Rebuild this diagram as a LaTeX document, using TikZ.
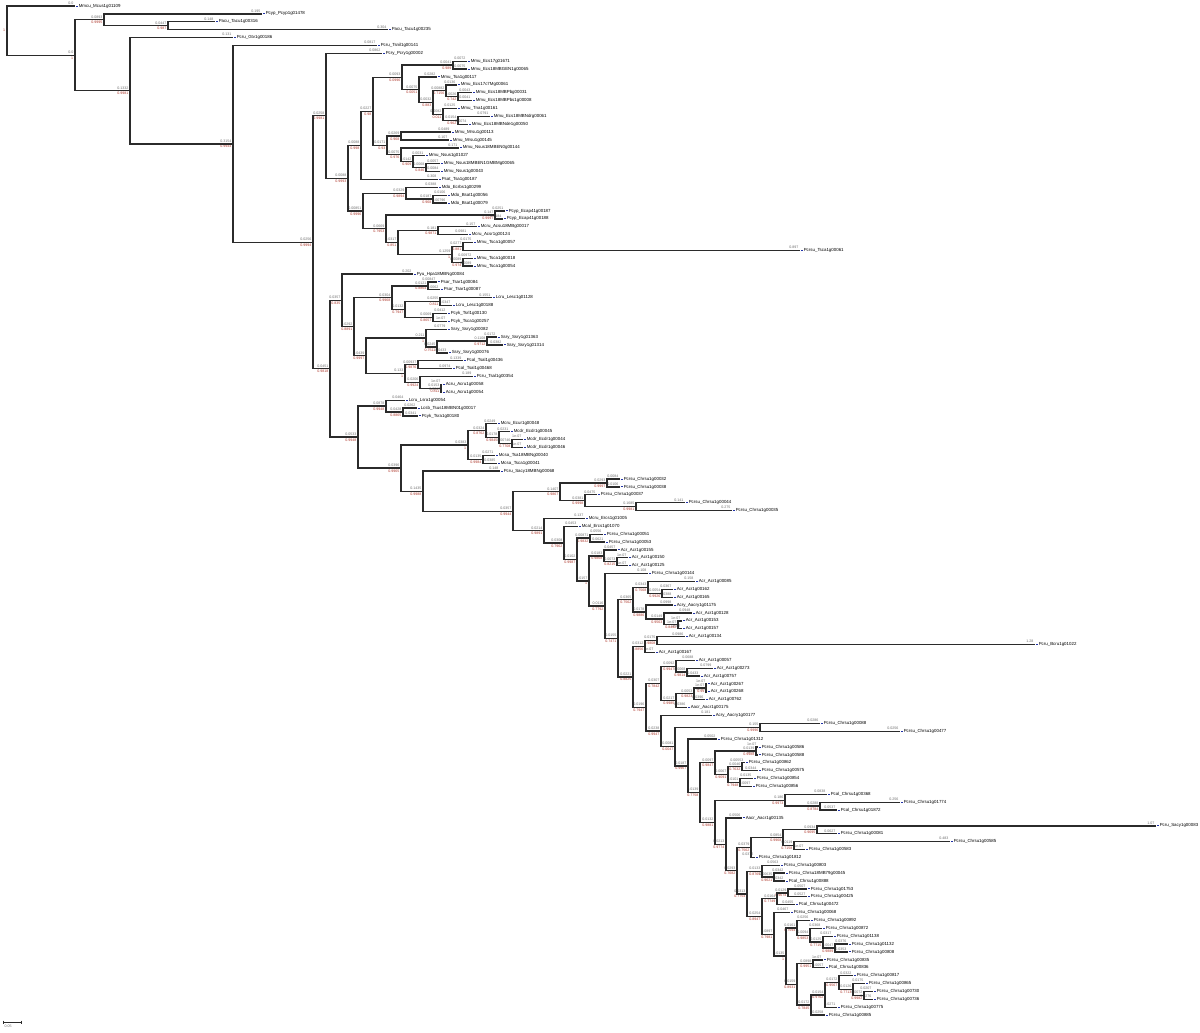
\documentclass[tikz,border=0pt]{standalone}
\usepackage{fontspec}
\setmainfont{Liberation Sans}
\usetikzlibrary{calc}
\definecolor{branchgray}{HTML}{2B2B2B}
\definecolor{lengthgray}{HTML}{6E6E6E}
\definecolor{supportred}{HTML}{B03A2E}
\definecolor{tipblue}{HTML}{2233AA}
\tikzset{
  branch/.style={draw=branchgray, line width=0.33pt},
  leaflab/.style={anchor=west, inner sep=0pt, font=\fontsize{1.1}{1.1}\selectfont},
  lenlab/.style={anchor=south east, inner sep=0.2pt, text=lengthgray, font=\fontsize{0.9}{0.9}\selectfont},
  suplab/.style={anchor=north east, inner sep=0.2pt, text=supportred, font=\fontsize{0.9}{0.9}\selectfont},
}

\begin{document}
\begin{tikzpicture}[x=0.25pt, y=-0.25pt]
  \useasboundingbox (0,0) rectangle (1200,1032);
  \fill[white] (0,0) rectangle (1200,1032);

  % leaves: name / row / tip x / label / branch length
  \foreach \nm/\li/\tx/\lb/\bl in {
    L1/1/75/Mmcu\_Mcus1g01109/0.0,
    L2/2/262/Pcyp\_Pcyp1g01478/0.195,
    L3/3/215/Pacu\_Tacu1g00316/0.148,
    L4/4/388/Pacu\_Tacu1g00235/0.304,
    L5/5/233/Pcru\_Gtv1g00186/0.131,
    L6/6/377/Pcru\_Tsnil1g00141/0.0817,
    L7/7/382/Pcry\_Pcry1g00002/0.0862,
    L8/8/467/Mmu\_Ecs17g01671/0.0072,
    L9/9/467/Mmu\_Ecs18MBGEN1g00065/0.0075,
    L10/10/437/Mmu\_Tsa1g00117/0.0282,
    L11/11/457/Mmu\_Ecs17c7Mg00061/0.0136,
    L12/12/472/Mmu\_Ecs18MBPbg00031/0.0043,
    L13/13/472/Mmu\_Ecs18MBPbs1g00008/0.0041,
    L14/14/457/Mmu\_Tna1g00161/0.0125,
    L15/15/490/Mmu\_Ecs18MBNdrg00061/0.0791,
    L16/16/468/Mmu\_Ecs18MBNde1g00050/0.0074,
    L17/17/451/Mmu\_Mrsu1g00113/0.0489,
    L18/18/449/Mmu\_Mrsu1g00145/0.107,
    L19/19/459/Mmu\_Nsus18MBEN0g00144/0.171,
    L20/20/425/Mmu\_Nsus1g01027/0.0031,
    L21/21/440/Mmu\_Nsus18MBEN1GMBMg00065/0.0057,
    L22/22/440/Mmu\_Nsus1g00043/0.0084,
    L23/23/438/Psat\_Tsa1g00187/0.308,
    L24/24/438/Mdo\_Ecrbs1g00299/0.0388,
    L25/25/447/Mdo\_Bsat1g00056/0.0106,
    L26/26/447/Mdo\_Bsat1g00079/0.00796,
    L27/27/505/Pcyp\_Ecap41g00187/0.0251,
    L28/28/503/Pcyp\_Ecap41g00188/0.0184,
    L29/29/477/Mcru\_Acsu18MBg00017/0.157,
    L30/30/468/Mcru\_Acsr1g00124/0.0981,
    L31/31/473/Mmu\_Tsca1g00057/0.0175,
    L32/32/800/Pcrsu\_Tsca1g00061/0.897,
    L33/33/473/Mmu\_Tsca1g00018/0.00972,
    L34/34/473/Mmu\_Tsca1g00054/0.0089,
    L35/35/413/Pyu\_Hpa18MBNg00084/0.202,
    L36/36/437/Psar\_Tsar1g00084/0.00847,
    L37/37/440/Psar\_Tsar1g00087/0.0062,
    L38/38/492/Lcru\_Lesc1g01128/0.1551,
    L39/39/452/Lcru\_Lesc1g00188/0.0347,
    L40/40/447/Pcyk\_Tsrl1g00130/0.0412,
    L41/41/447/Pcyk\_Tsca1g00257/1e-07,
    L42/42/447/Ssry\_Ssry1g00082/0.0779,
    L43/43/497/Ssry\_Ssry1g01363/0.0172,
    L44/44/503/Ssry\_Ssry1g01314/0.0382,
    L45/45/448/Ssry\_Ssry1g00076/0.0433,
    L46/46/463/Pcal\_Tsal1g00436/0.1339,
    L47/47/452/Pcal\_Tsal1g00468/0.0974,
    L48/48/473/Pcru\_Tsal1g00354/0.189,
    L49/49/442/Acru\_Acru1g00058/1e-07,
    L50/50/442/Acru\_Acru1g00054/0.0017,
    L51/51/405/Lcru\_Lsra1g00054/0.0464,
    L52/52/417/Lcsb\_Tsus18MBN01g00017/0.0262,
    L53/53/418/Pcyk\_Tsra1g00180/0.0341,
    L54/54/497/Mcru\_Ecur1g00048/0.0249,
    L55/55/510/Mcdr\_Ecdr1g00045/0.0231,
    L56/56/523/Mcdr\_Ecdr1g00044/1e-07,
    L57/57/523/Mcdr\_Ecdr1g00046/1e-07,
    L58/58/495/Mcsa\_Tsa18MBNg00040/0.0271,
    L59/59/497/Mcsa\_Tsca1g00041/0.0385,
    L60/60/500/Pcru\_Sacy18MBNg00068/0.148,
    L61/61/620/Pcrsu\_Chrsu1g00032/0.0084,
    L62/62/620/Pcrsu\_Chrsu1g00038/0.0106,
    L63/63/597/Pcrsu\_Chrsu1g00037/0.0475,
    L64/64/685/Pcrsu\_Chrsu1g00044/0.141,
    L65/65/732/Pcrsu\_Chrsu1g00035/0.275,
    L66/66/585/Mcru\_Ercs1g01005/0.137,
    L67/67/578/Mcal\_Ercs1g01070/0.0453,
    L68/68/603/Pcrsu\_Chrsu1g00051/0.0556,
    L69/69/605/Pcrsu\_Chrsu1g00053/0.0621,
    L70/70/617/Acr\_Acr1g00155/0.0457,
    L71/71/628/Acr\_Acr1g00150/1e-07,
    L72/72/628/Acr\_Acr1g00125/1e-07,
    L73/73/648/Pcrsu\_Chrsu1g00144/0.108,
    L74/74/695/Acr\_Acr1g00085/0.158,
    L75/75/673/Acr\_Acr1g00162/0.0367,
    L76/76/673/Acr\_Acr1g00165/0.0388,
    L77/77/673/Acry\_Aacry1g01175/0.0998,
    L78/78/692/Acr\_Acr1g00128/0.0948,
    L79/79/682/Acr\_Acr1g00153/1e-07,
    L80/80/682/Acr\_Acr1g00157/1e-07,
    L81/81/685/Acr\_Acr1g00134/0.0986,
    L82/82/1035/Pcru\_Bcru1g01022/1.28,
    L83/83/655/Acr\_Acr1g00167/1e-07,
    L84/84/695/Acr\_Acr1g00057/0.0688,
    L85/85/713/Acr\_Acr1g00273/0.0799,
    L86/86/700/Acr\_Acr1g00757/0.0433,
    L87/87/707/Acr\_Acr1g00267/1e-07,
    L88/88/707/Acr\_Acr1g00268/1e-07,
    L89/89/705/Acr\_Acr1g00762/0.0396,
    L90/90/687/Aacr\_Aacr1g00175/0.0386,
    L91/91/712/Acry\_Aacry1g00177/0.181,
    L92/92/820/Pcrsu\_Chrsu1g00088/0.0286,
    L93/93/900/Pcrsu\_Chrsu1g00477/0.0256,
    L94/94/717/Pcrsu\_Chrsu1g01312/0.0502,
    L95/95/758/Pcrsu\_Chrsu1g00586/1e-07,
    L96/96/758/Pcrsu\_Chrsu1g00588/1e-07,
    L97/97/745/Pcrsu\_Chrsu1g00862/0.00553,
    L98/98/758/Pcrsu\_Chrsu1g00575/0.0344,
    L99/99/753/Pcrsu\_Chrsu1g00854/0.0135,
    L100/100/752/Pcrsu\_Chrsu1g00856/0.0097,
    L101/101/827/Pcal\_Chrsu1g00368/0.0838,
    L102/102/900/Pcrsu\_Chrsu1g01774/0.256,
    L103/103/837/Pcal\_Chrsu1g01872/0.0537,
    L104/104/742/Aacr\_Aacr1g00135/0.0506,
    L105/105/1156/Pcru\_Sacy1g00083/1.07,
    L106/106/837/Pcrsu\_Chrsu1g00081/0.0627,
    L107/107/950/Pcrsu\_Chrsu1g00585/0.483,
    L108/108/805/Pcrsu\_Chrsu1g00583/1e-07,
    L109/109/755/Pcrsu\_Chrsu1g01812/0.0372,
    L110/110/780/Pcrsu\_Chrsu1g00803/0.0563,
    L111/111/785/Pcrsu\_Chrsu18MB79g00045/0.0342,
    L112/112/785/Pcal\_Chrsu1g00888/0.0342,
    L113/113/807/Pcrsu\_Chrsu1g01753/0.0507,
    L114/114/807/Pcrsu\_Chrsu1g00425/0.0527,
    L115/115/795/Pcal\_Chrsu1g00472/0.0455,
    L116/116/790/Pcrsu\_Chrsu1g00068/0.0467,
    L117/117/810/Pcrsu\_Chrsu1g00892/0.0256,
    L118/118/822/Pcrsu\_Chrsu1g00872/0.0368,
    L119/119/833/Pcrsu\_Chrsu1g01138/0.0317,
    L120/120/848/Pcrsu\_Chrsu1g01132/0.0376,
    L121/121/848/Pcrsu\_Chrsu1g00808/0.0353,
    L122/122/823/Pcrsu\_Chrsu1g00835/1e-07,
    L123/123/825/Pcal\_Chrsu1g00836/0.0057,
    L124/124/853/Pcrsu\_Chrsu1g00817/0.0322,
    L125/125/865/Pcrsu\_Chrsu1g00865/0.0175,
    L126/126/873/Pcrsu\_Chrsu1g00730/0.0207,
    L127/127/873/Pcrsu\_Chrsu1g00736/0.0276,
    L128/128/837/Pcrsu\_Chrsu1g00775/0.0271,
    L129/129/825/Pcrsu\_Chrsu1g00885/0.0258%
  }{
    \pgfmathsetmacro\ty{6+(\li-1)*7.883}
    \expandafter\xdef\csname ty@\nm\endcsname{\ty}
    \coordinate (\nm) at (\tx,\ty);
    \fill[tipblue] (\tx+0.5,\ty-0.5) rectangle (\tx+2.5,\ty+0.5);
    \node[leaflab] at (\tx+3,\ty) {\lb};
    \node[lenlab] at (\nm) {\bl};
  }

  % inner nodes, children first: name / x / child / child / branch length / support
  \foreach \nm/\nx/\ka/\kb/\bl/\sv in {
    n4/168/L3/L4/0.0447/0.987,
    n2/104/L2/n4/0.0893/0.9995,
    na/453/L8/L9/0.0041/0.989,
    nb/458/L12/L13/0.0026/0.742,
    nc/446/L11/nb/0.00882/0.7156,
    nd/458/L15/L16/0.0154/0.962,
    ne/443/L14/nd/0.0082/0.011,
    nf/433/nc/ne/0.0032/0.883,
    ng/419/L10/nf/0.0075/0.0051,
    n12/402/na/ng/0.0093/0.0996,
    nh/401/L17/L18/0.0269/0.968,
    ni/426/L21/L22/0.0068/0.846,
    nj/413/L20/ni/0.0142/0.909,
    nk/401/L19/nj/0.0075/0.976,
    nl/387/nh/nk/0.0171/0.93,
    n11/373/n12/nl/0.0227/0.98,
    n9/361/n11/L23/0.0088/0.998,
    nu/433/L25/L26/0.0187/0.968,
    nm/406/L24/nu/0.0329/0.9894,
    np/495/L27/L28/0.147/0.9997,
    nr/438/L29/L30/0.181/0.9871,
    nt1/463/L31/L32/0.0277/0.881,
    nt2/463/L33/L34/0.0089/0.974,
    ns/452/nt1/nt2/0.1259/1,
    nq/398/nr/ns/0.0317/0.851,
    no/386/np/nq/0.0669/0.7953,
    n10/363/nm/no/0.00851/0.9996,
    n8/348/n9/n10/0.0088/0.9993,
    n7/326/L7/n8/0.0258/0.9981,
    nB4/428/L36/L37/0.0121/0.8864,
    nB5a/440/L38/L39/0.0255/0.811,
    nB5b/433/L40/L41/0.0069/0.8657,
    nB5/405/nB5a/nB5b/0.0132/0.7947,
    nB3/392/nB4/nB5/0.0304/0.9968,
    nB8a/487/L43/L44/0.1108/0.9712,
    nB8/437/nB8a/L45/0.0245/0.7511,
    nB7/426/L42/nB8/0.211/1,
    nB10/418/L46/L47/0.00937/0.9876,
    nB12/441/L49/L50/0.0153/0.811,
    nB11/420/L48/nB12/0.0206/0.9924,
    nB9/405/nB10/nB11/0.133/1,
    nB6/366/nB7/nB9/0.0439/0.9997,
    nB2/354/nB3/nB6/0.0292/0.8891,
    nB1/342/L35/nB2/0.0357/0.835,
    zA1/403/L52/L53/0.0428/0.8865,
    zA/386/L51/zA1/0.0878/0.9948,
    z3c/512/L56/L57/0.00746/0.7708,
    z3b/499/L55/z3c/0.0178/0.9845,
    z3a/486/L54/z3b/0.0324/0.8762,
    z3d/483/L58/L59/0.0135/0.9984,
    z3/468/z3a/z3d/0.0383/1,
    z6a/607/L61/L62/0.0293/0.9997,
    z6c/636/L64/L65/0.1685/0.9981,
    z6b/585/L63/z6c/0.0381/0.9998,
    z6/560/z6a/z6b/0.1407/0.9867,
    z10a/590/L68/L69/0.00871/0.9832,
    z11b/617/L71/L72/0.0073/0.8215,
    z11a/604/L70/z11b/0.0183/0.9868,
    y4a/662/L75/L76/0.0054/0.9926,
    y4/648/L74/y4a/0.0343/0.7568,
    y5b/678/L79/L80/1e-07/0.8442,
    y5a/664/L78/y5b/0.0149/0.9563,
    y5/646/L77/y5a/0.0178/0.9886,
    y3/633/y4/y5/0.0365/0.7562,
    y7a/657/L81/L82/0.0175/0.9808,
    y7/645/y7a/L83/0.0312/0.8856,
    y10a/687/L85/L86/0.0068/0.9814,
    y10/676/L84/y10a/0.0092/0.9947,
    y12a/706/L87/L88/1e-07/0.99,
    y12/694/y12a/L89/0.0053/0.9823,
    y11/676/y12/L90/0.0217/0.9985,
    y9/661/y10/y11/0.0307/0.7842,
    x2a/760/L92/L93/0.155/0.9996,
    w3a/756/L95/L96/0.0139/0.9988,
    w4a/742/L97/L98/0.0046/0.7632,
    w4b/740/L99/L100/0.0101/0.7948,
    w4/728/w4a/w4b/0.0067/0.9091,
    w3/715/w3a/w4/0.0097/0.9847,
    v2a/820/L102/L103/0.0288/0.8784,
    v2/785/L101/v2a/0.186/0.9973,
    v6a/817/L105/L106/0.0934/0.9695,
    v6b/794/L107/L108/0.0119/0.7158,
    v6/783/v6a/v6b/0.0854/0.9968,
    v5/751/v6/L109/0.0379/0.7562,
    v8a/774/L111/L112/0.00635/0.9621,
    v8/762/L110/v8a/0.0133/0.8765,
    v10a/788/L113/L114/0.0129/0.9674,
    v10/777/v10a/L115/0.0164/0.7749,
    v15a/835/L120/L121/0.0047/0.9889,
    v15/823/L119/v15a/0.0125/0.7715,
    v14/810/L118/v15/0.0094/0.9853,
    v13/797/L117/v14/0.0161/0.7594,
    v17/813/L122/L123/0.0898/0.9951,
    v22/864/L126/L127/0.0072/0.9982,
    v21/853/L125/v22/0.0126/0.7713,
    v20/839/L124/v21/0.0172/0.9567,
    v19/825/v20/L128/0.0154/0.9762,
    v18/811/v19/L129/0.0172/0.7845,
    v16/797/v17/v18/0.0159/0.8931,
    v12/786/v13/v16/0.0135/1,
    v11/774/L116/v12/0.0897/0.7981,
    v9/762/v10/v11/0.0254/0.8947,
    v7/747/v8/v9/0.0313/0.7754,
    v4/737/v5/v7/0.0293/0.7682,
    v3/726/L104/v4/0.0213/0.9774,
    v1/715/v2/v3/0.0132/0.9881,
    w2/700/w3/v1/0.0139/0.7758,
    w1/688/L94/w2/0.0187/0.9967,
    x2/675/x2a/w1/0.0081/0.0047,
    x1/661/L91/x2/0.0238/0.9947,
    y8/646/y9/x1/0.0196/0.7947,
    y6/633/y7/y8/0.0221/0.8825,
    y2/618/y3/y6/0.0155/0.7471,
    y1/605/L73/y2/0.0116/0.7792,
    z11/589/z11a/y1/0.0157/1,
    z10/577/z10a/z11/0.0102/0.9987,
    z9/564/L67/z10/0.0308/0.7962,
    z8/544/L66/z9/0.0214/0.9891,
    z5/513/z6/z8/0.0357/0.9944,
    z4/423/L60/z5/0.1435/0.9988,
    z2/401/z3/z4/0.0396/0.9965,
    z1/358/zA/z2/0.0533/0.9948,
    nB/330/nB1/z1/0.0451/0.9818,
    n6/313/n7/nB/0.0256/0.9994,
    n5/233/L6/n6/0.3154/0.9944,
    n3/130/L5/n5/0.1332/0.9981,
    n1/75/n2/n3/0.0/1%
  }{
    \edef\ya{\csname ty@\ka\endcsname}
    \edef\yb{\csname ty@\kb\endcsname}
    \pgfmathsetmacro\ty{(\ya+\yb)/2}
    \expandafter\xdef\csname ty@\nm\endcsname{\ty}
    \coordinate (\nm) at (\nx,\ty);
    \draw[branch] (\nm) |- (\ka);
    \draw[branch] (\nm) |- (\kb);
    \node[lenlab] at (\nm) {\bl};
    \node[suplab] at (\nm) {\sv};
  }

  % root
  \pgfmathsetmacro\ty{(\csname ty@L1\endcsname+\csname ty@n1\endcsname)/2}
  \coordinate (root) at (7,\ty);
  \draw[branch] (root) |- (L1);
  \draw[branch] (root) |- (n1);
  \node[suplab, anchor=east] at (root) {1};

  % scale bar
  \coordinate (sbl) at (3,1022);
  \coordinate (sbr) at (21,1022);
  \draw[branch, line width=0.2pt] (sbl) -- (sbr);
  \draw[branch, line width=0.2pt] ($(sbl)+(0,-1.5)$) -- ($(sbl)+(0,1.5)$);
  \draw[branch, line width=0.2pt] ($(sbr)+(0,-1.5)$) -- ($(sbr)+(0,1.5)$);
  \node[lenlab, anchor=north west] at ($(sbl)+(0,1)$) {0.05};
\end{tikzpicture}
\end{document}
